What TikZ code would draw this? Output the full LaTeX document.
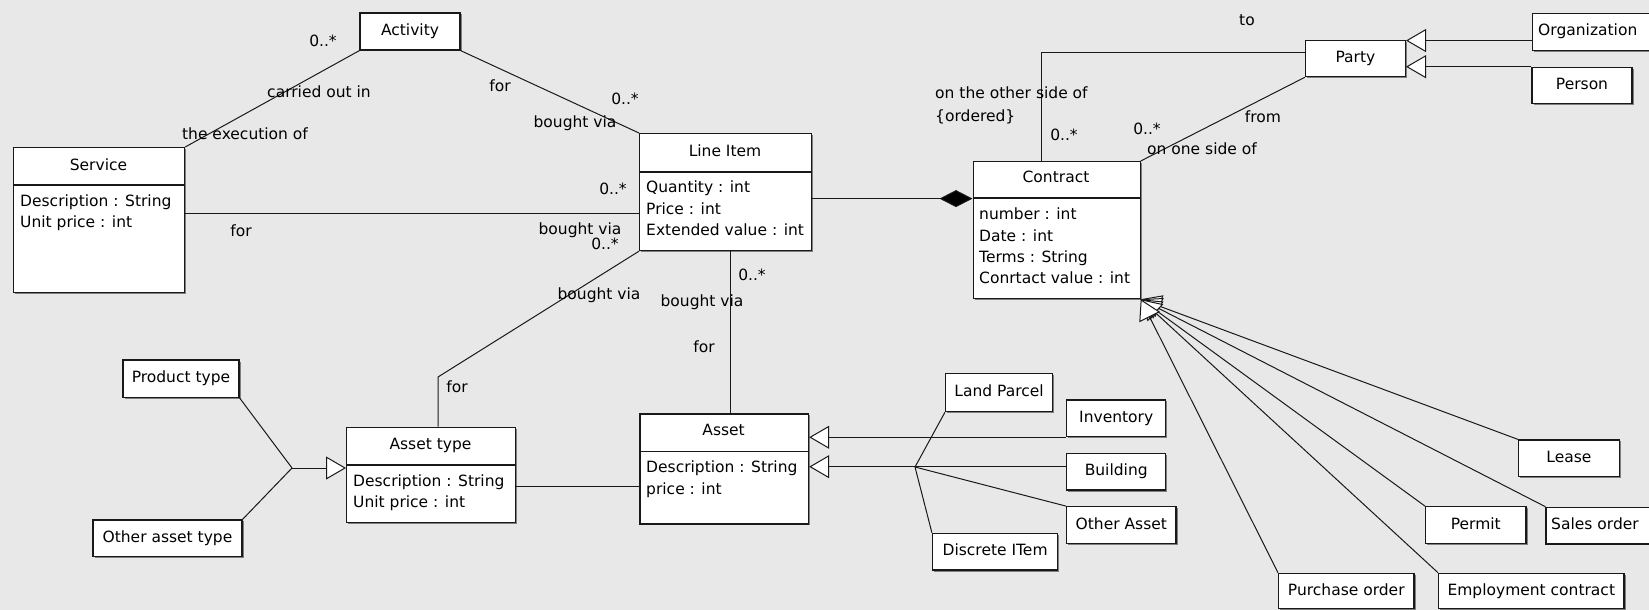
\documentclass[tikz,border=0pt]{standalone}
\usepackage{fontspec}
\setmainfont{DejaVu Sans}
\usetikzlibrary{arrows.meta,shadows}
\definecolor{bg}{RGB}{232,232,232}
\tikzset{
  txt/.style={inner sep=0pt, font=\fontsize{15.5}{18}\selectfont, text height=11pt, text depth=3pt},
  cbox/.style={draw=black!90, line width=1.2pt, fill=white, inner sep=0pt,
    drop shadow={shadow xshift=1.5pt, shadow yshift=-1.5pt, opacity=0.45, fill=black}},
  sbox/.style={cbox, txt},
  sep/.style={line width=1.2pt, draw=black!90},
  conn/.style={line width=1pt, draw=black!90},
  gen/.style={conn, -{Triangle[length=20pt, width=23pt, fill=white, line width=1pt]}},
  comp/.style={conn, -{Diamond[length=33pt, width=17pt, fill=black]}},
}
\begin{document}
\begin{tikzpicture}[x=1pt,y=-1pt]
\fill[bg] (0,0) rectangle (1649,610);
\useasboundingbox (0,0) rectangle (1649,610);

% ---------- class boxes with compartments ----------
\node[cbox, anchor=north west, minimum width=171pt, minimum height=145pt] (service) at (13,147) {};
\draw[sep] (13,185) -- (184,185);
\node[txt] at (98.5,166) {Service};
\node[txt, anchor=west] at (20,202) {Description : String};
\node[txt, anchor=west] at (20,223) {Unit price : int};

\node[cbox, anchor=north west, minimum width=172pt, minimum height=117pt] (lineitem) at (639,133) {};
\draw[sep] (639,172) -- (811,172);
\node[txt] at (725,152) {Line Item};
\node[txt, anchor=west] at (646,188) {Quantity : int};
\node[txt, anchor=west] at (646,210) {Price : int};
\node[txt, anchor=west] at (646,231) {Extended value : int};

\node[cbox, anchor=north west, minimum width=167pt, minimum height=137pt] (contract) at (972.5,161) {};
\draw[sep] (972.5,198) -- (1139.5,198);
\node[txt] at (1056,178) {Contract};
\node[txt, anchor=west] at (979,215) {number : int};
\node[txt, anchor=west] at (979,237) {Date : int};
\node[txt, anchor=west] at (979,258) {Terms : String};
\node[txt, anchor=west] at (979,279) {Conrtact value : int};

\node[cbox, anchor=north west, minimum width=169pt, minimum height=95pt] (assettype) at (346,426.7) {};
\draw[sep] (346,465) -- (515,465);
\node[txt] at (430.5,445) {Asset type};
\node[txt, anchor=west] at (353,482) {Description : String};
\node[txt, anchor=west] at (353,503) {Unit price : int};

\node[cbox, anchor=north west, minimum width=168.7pt, minimum height=110pt] (asset) at (639.3,413.3) {};
\draw[sep] (639.3,451.7) -- (808,451.7);
\node[txt] at (723.6,431.7) {Asset};
\node[txt, anchor=west] at (646,468.3) {Description : String};
\node[txt, anchor=west] at (646,490) {price : int};

% ---------- simple boxes ----------
\node[sbox, minimum width=100pt, minimum height=37pt] (activity) at (410,31.5) {Activity};
\node[sbox, minimum width=100pt, minimum height=36pt] (party) at (1355.4,58.7) {Party};
\node[cbox, anchor=north west, minimum width=130pt, minimum height=36.7pt] (organization) at (1532,13.3) {};
\node[txt, anchor=west] at (1538,31.7) {Organization};
\node[sbox, minimum width=100pt, minimum height=36pt] (person) at (1582,85.3) {Person};
\node[sbox, minimum width=116pt, minimum height=37.3pt] (producttype) at (181,378.7) {Product type};
\node[sbox, minimum width=149pt, minimum height=36.7pt] (otherassettype) at (167.5,538.3) {Other asset type};
\node[sbox, minimum width=107pt, minimum height=38.4pt] (landparcel) at (999,392.5) {Land Parcel};
\node[sbox, minimum width=99.3pt, minimum height=36.7pt] (inventory) at (1116.2,418.3) {Inventory};
\node[sbox, minimum width=99.3pt, minimum height=36.7pt] (building) at (1116.2,471.7) {Building};
\node[sbox, minimum width=109.5pt, minimum height=36.6pt] (otherasset) at (1121.3,525) {Other Asset};
\node[sbox, minimum width=125.2pt, minimum height=36.7pt] (discreteitem) at (995.1,551.7) {Discrete ITem};
\node[sbox, minimum width=100.9pt, minimum height=36.7pt] (lease) at (1568.9,458.3) {Lease};
\node[sbox, minimum width=100.4pt, minimum height=36.6pt] (permit) at (1475.8,525) {Permit};
\node[cbox, anchor=north west, minimum width=115pt, minimum height=36.6pt] (salesorder) at (1545.4,506.7) {};
\node[txt, anchor=west] at (1551,525) {Sales order};
\node[sbox, minimum width=135.4pt, minimum height=35.4pt] (purchaseorder) at (1346.3,591) {Purchase order};
\node[sbox, minimum width=185.4pt, minimum height=35.4pt] (employment) at (1531.3,591) {Employment contract};

% ---------- associations ----------
\draw[conn] (service.north east) -- (activity.south west);
\draw[conn] (activity.south east) -- (lineitem.north west);
\draw[conn] ([yshift=6.5pt]service.east) -- ([yshift=6.5pt]service.east -| lineitem.west);
\coordinate (b1) at (438,377);
\draw[conn] (lineitem.south west) -- (b1) -- (b1 |- assettype.north);
\draw[conn] ([xshift=5pt]lineitem.south) -- ([xshift=5pt]lineitem.south |- asset.north);
\draw[conn] ([yshift=-12pt]assettype.east) -- ([yshift=-12pt]assettype.east -| asset.west);
\draw[comp] ([yshift=-6.5pt]lineitem.east) -- ([yshift=-6.5pt]lineitem.east -| contract.west);
\draw[conn] ([xshift=-15pt]contract.north) |- ([yshift=5.7pt]party.west);
\draw[conn] (contract.north east) -- (party.south west);

% ---------- generalizations ----------
\draw[gen] ([yshift=-8.3pt]organization.west) -- ([yshift=-8.3pt]organization.west -| party.east);
\draw[gen] (person.north west) -- (person.north west -| party.east);

\coordinate (j1) at (292,468);
\draw[conn] (producttype.south east) -- (j1);
\draw[conn] (otherassettype.north east) -- (j1);
\draw[gen] (j1) -- (j1 -| assettype.west);

\draw[gen] (inventory.south west) -- (inventory.south west -| asset.east);
\draw[gen] ([yshift=5pt]building.west) -- ([yshift=5pt]building.west -| asset.east);
\coordinate (j2) at (915,467);
\draw[conn] (landparcel.south west) -- (j2);
\draw[conn] (discreteitem.north west) -- (j2);
\draw[conn] (otherasset.north west) -- (j2);

\draw[gen] (lease.north west) -- (contract.south east);
\draw[gen] (salesorder.north west) -- (contract.south east);
\draw[gen] (permit.north west) -- (contract.south east);
\draw[gen] (employment.north west) -- (contract.south east);
\draw[gen] (purchaseorder.north west) -- (contract.south east);

% ---------- labels ----------
\node[txt] at (323,43) {0..*};
\node[txt] at (319,93) {carried out in};
\node[txt] at (245,135) {the execution of};
\node[txt] at (500,88) {for};
\node[txt] at (625,100) {0..*};
\node[txt] at (575,123) {bought via};
\node[txt] at (613,190) {0..*};
\node[txt] at (241,232) {for};
\node[txt] at (580,230) {bought via};
\node[txt] at (605,245) {0..*};
\node[txt] at (599,295) {bought via};
\node[txt] at (457,388) {for};
\node[txt] at (752,276) {0..*};
\node[txt] at (702,302) {bought via};
\node[txt] at (704,348) {for};
\node[txt] at (1247,22) {to};
\node[txt, anchor=west] at (935,95) {on the other side of};
\node[txt, anchor=west] at (935,117) {\{ordered\}};
\node[txt] at (1064,136) {0..*};
\node[txt] at (1147,130) {0..*};
\node[txt] at (1202,150) {on one side of};
\node[txt] at (1263,118) {from};
\end{tikzpicture}
\end{document}
